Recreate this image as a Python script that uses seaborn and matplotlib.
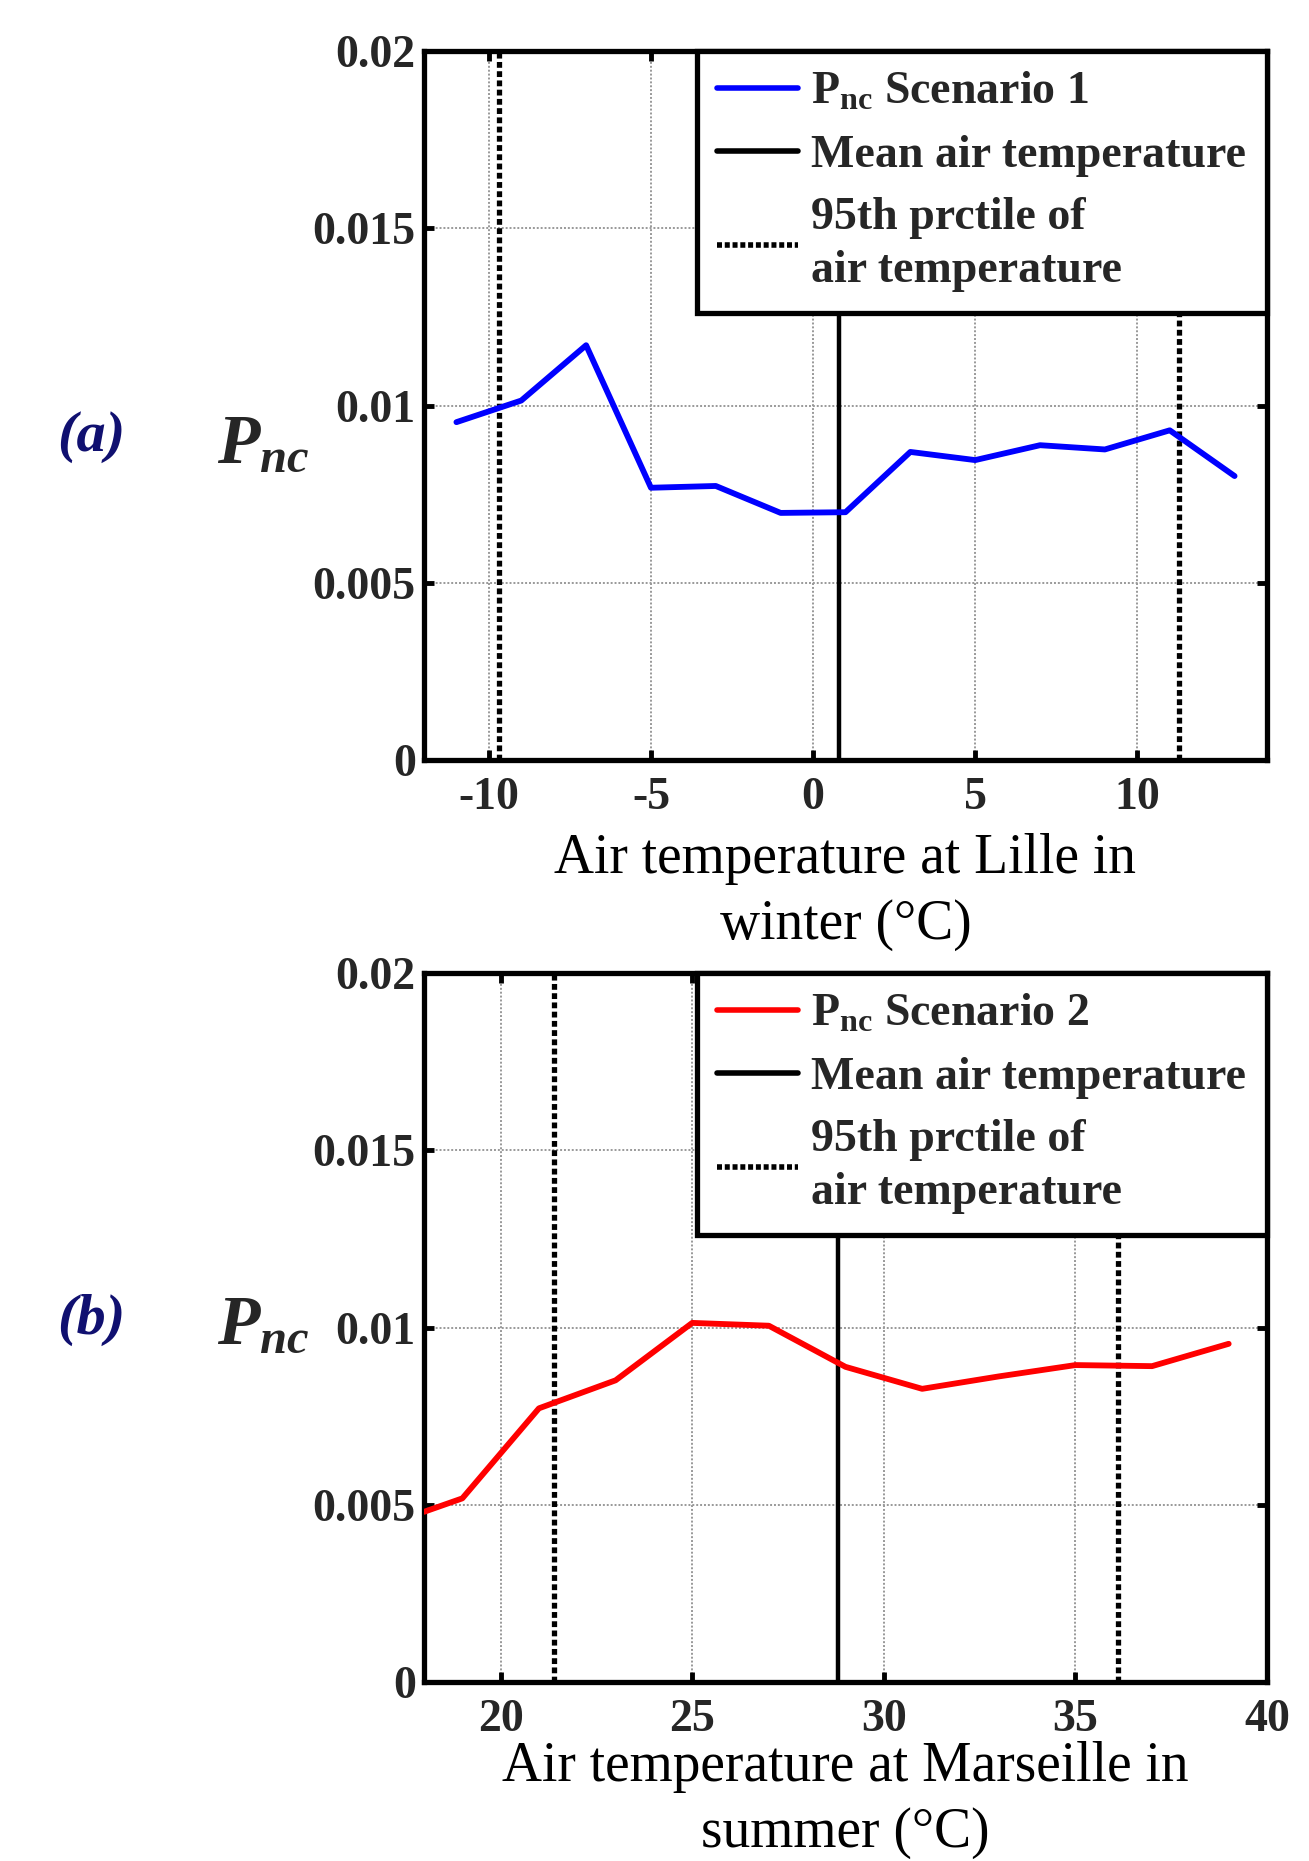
import matplotlib
matplotlib.use('Agg')
import matplotlib.pyplot as plt
from matplotlib.lines import Line2D
import seaborn as sns
import pandas as pd

# Lille, winter (scenario 1)
lille_temp = [-11, -9, -7, -5, -3, -1, 1, 3, 5, 7, 9, 11, 13]
lille_pnc = [0.00953, 0.01014, 0.0117, 0.00768, 0.00773, 0.00697, 0.00699,
             0.00869, 0.00846, 0.00888, 0.00876, 0.0093, 0.00801]
lille_mean = 0.8
lille_pct = [-9.7, 11.3]
lille_xticks = [-10, -5, 0, 5, 10]

# Marseille, summer (scenario 2)
mars_temp = [18, 19, 21, 23, 25, 27, 29, 31, 33, 35, 37, 39]
mars_pnc = [0.0048, 0.00518, 0.00772, 0.00851, 0.01013, 0.01005, 0.00889,
            0.00827, 0.00862, 0.00894, 0.00891, 0.00954]
mars_mean = 28.8
mars_pct = [21.4, 36.1]
mars_xticks = [20, 25, 30, 35, 40]

yticks = [0, 0.005, 0.01, 0.015, 0.02]
ytick_labels = ['0', '0.005', '0.01', '0.015', '0.02']

sns.set_theme(style="ticks")
plt.rcParams.update({
    'font.family': ['Liberation Serif', 'DejaVu Serif'],
    'mathtext.fontset': 'custom',
    'mathtext.rm': 'Liberation Serif:bold',
    'mathtext.it': 'Liberation Serif:italic:bold',
    'mathtext.bf': 'Liberation Serif:bold',
    'axes.unicode_minus': False,
})

W, H = 1309, 1861
fig = plt.figure(figsize=(W / 100, H / 100), dpi=100)
left, width = 424 / W, 843 / W
ax1 = fig.add_axes([left, 1 - 760 / H, width, 709 / H])
ax2 = fig.add_axes([left, 1 - 1682 / H, width, 709 / H])


def draw_panel(ax, temp, pnc, color, mean, pcts, xlim, xticks, label, xlabel, labelpad):
    df = pd.DataFrame({'temp': temp, 'pnc': pnc})
    ax.set_axisbelow(True)
    ax.grid(True, color='#999999', linestyle=(0, (1, 1)), linewidth=1.4)
    sns.lineplot(data=df, x='temp', y='pnc', color=color, linewidth=4.2, ax=ax, zorder=3)
    ax.axvline(mean, color='black', linewidth=3.2, zorder=2)
    for p in pcts:
        ax.axvline(p, color='black', linewidth=3.8, linestyle=(0, (1.1, 0.65)), zorder=2)

    ax.set_xlim(*xlim)
    ax.set_ylim(0, 0.02)
    ax.set_xticks(xticks)
    ax.set_xticklabels([str(t) for t in xticks])
    ax.set_yticks(yticks)
    ax.set_yticklabels(ytick_labels)
    ax.tick_params(direction='in', top=True, right=True, length=7, width=3.5,
                   labelsize=33, color='black')
    ax.tick_params(axis='x', pad=12)
    ax.tick_params(axis='y', pad=6)
    for t in ax.get_xticklabels() + ax.get_yticklabels():
        t.set_fontweight('bold')
    for s in ax.spines.values():
        s.set_linewidth(3.8)
        s.set_color('black')

    ax.set_ylabel('')
    ax.set_xlabel(xlabel, fontsize=40, labelpad=labelpad, color='black',
                  linespacing=1.35)

    handles = [
        Line2D([], [], color=color, linewidth=4),
        Line2D([], [], color='black', linewidth=4),
        Line2D([], [], color='black', linewidth=4, linestyle=(0, (0.9, 0.5))),
    ]
    labels = [label, 'Mean air temperature', '95th prctile of\nair temperature']
    leg = ax.legend(handles, labels, loc='upper right', borderaxespad=0,
                    fancybox=False, framealpha=1, edgecolor='black',
                    prop={'size': 33, 'weight': 'bold'},
                    handlelength=1.75, handletextpad=0.3, labelspacing=0.45,
                    borderpad=0.45)
    for t in leg.get_texts():
        t.set_linespacing(1.35)
    leg.get_frame().set_linewidth(3.8)


draw_panel(ax1, lille_temp, lille_pnc, '#0000ff', lille_mean, lille_pct, (-12, 14),
           lille_xticks, r'P$_{\mathrm{nc}}$ Scenario 1',
           'Air temperature at Lille in\nwinter (°C)', 10)
draw_panel(ax2, mars_temp, mars_pnc, '#ff0000', mars_mean, mars_pct, (18, 40),
           mars_xticks, r'P$_{\mathrm{nc}}$ Scenario 2',
           'Air temperature at Marseille in\nsummer (°C)', 0)

navy = '#101070'
fig.text(91 / W, 1 - 437 / H, '(a)', ha='center', va='center', fontsize=42,
         style='italic', weight='bold', color=navy)
fig.text(91 / W, 1 - 1320 / H, '(b)', ha='center', va='center', fontsize=42,
         style='italic', weight='bold', color=navy)
fig.text(217 / W, 1 - 462 / H, r'$P_{nc}$', ha='left', va='baseline', fontsize=50)
fig.text(217 / W, 1 - 1343 / H, r'$P_{nc}$', ha='left', va='baseline', fontsize=50)

fig.savefig('out.png', dpi=100, facecolor='white')
